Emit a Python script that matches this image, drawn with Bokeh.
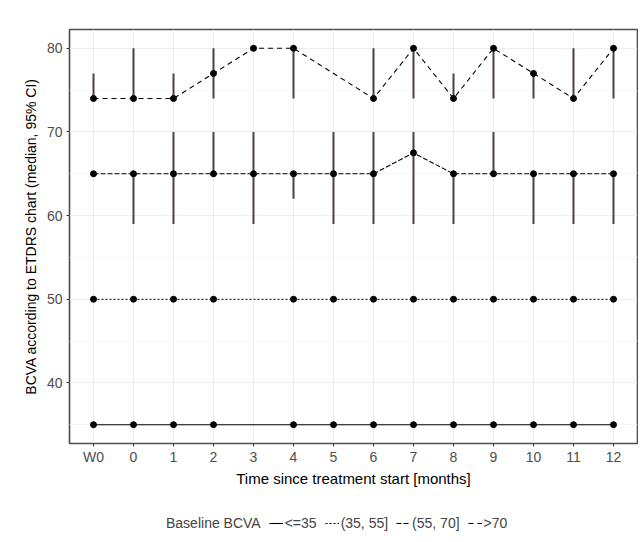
from bokeh.plotting import figure
from bokeh.layouts import column
from bokeh.models import ColumnDataSource, Range1d, FixedTicker, Legend, LegendItem
from bokeh.embed import file_html
from bokeh.resources import INLINE

months = ["W0", "0", "1", "2", "3", "4", "5", "6", "7", "8", "9", "10", "11", "12"]
groups = ["<=35", "(35, 55]", "(55, 70]", ">70"]
legend_title = "Baseline BCVA"

med_le35 = [35, 35, 35, 35, None, 35, 35, 35, 35, 35, 35, 35, 35, 35]
lo_le35 = med_le35
hi_le35 = med_le35

med_35_55 = [50, 50, 50, 50, None, 50, 50, 50, 50, 50, 50, 50, 50, 50]
lo_35_55 = med_35_55
hi_35_55 = med_35_55

med_55_70 = [65, 65, 65, 65, 65, 65, 65, 65, 67.5, 65, 65, 65, 65, 65]
lo_55_70 = [65, 59, 59, 65, 59, 62, 59, 59, 59, 59, 65, 59, 59, 59]
hi_55_70 = [65, 65, 70, 70, 70, 65, 70, 70, 70, 65, 70, 65, 65, 65]

med_gt70 = [74, 74, 74, 77, 80, 80, None, 74, 80, 74, 80, 77, 74, 80]
lo_gt70 = [74, 74, 74, 74, 80, 74, None, 74, 74, 74, 74, 74, 74, 74]
hi_gt70 = [77, 80, 77, 80, 80, 80, None, 80, 80, 77, 80, 77, 80, 80]

y_ticks = [40, 50, 60, 70, 80]
y_minor = [35, 45, 55, 65, 75]

series = [
    (groups[0], med_le35, lo_le35, hi_le35, "solid"),
    (groups[1], med_35_55, lo_35_55, hi_35_55, "2 2"),
    (groups[2], med_55_70, lo_55_70, hi_55_70, "5 2"),
    (groups[3], med_gt70, lo_gt70, hi_gt70, "5 4"),
]

FONT = "Liberation Sans"

p = figure(frame_width=568, frame_height=414, output_backend="svg", toolbar_location=None,
           x_range=Range1d(-0.6, len(months) - 0.4), y_range=Range1d(32.75, 82.25),
           min_border_left=69, min_border_top=29, min_border_bottom=50, min_border_right=1)
p.background_fill_color = "white"
p.border_fill_color = "white"
p.outline_line_color = "#4d4d4d"
p.outline_line_width = 1.6

# grids
p.xgrid.grid_line_color = "#ededed"
p.ygrid.grid_line_color = "#ededed"
p.ygrid.minor_grid_line_color = "#f6f6f6"

p.xaxis.ticker = FixedTicker(ticks=list(range(len(months))))
p.xaxis.major_label_overrides = {i: m for i, m in enumerate(months)}
p.yaxis.ticker = FixedTicker(ticks=y_ticks, minor_ticks=y_minor)

for ax in (p.xaxis[0], p.yaxis[0]):
    ax.axis_line_color = None
    ax.major_tick_line_color = "#333333"
    ax.major_tick_in = 0
    ax.major_tick_out = 3
    ax.minor_tick_line_color = None
    ax.major_label_text_font = FONT
    ax.major_label_text_font_size = "14px"
    ax.major_label_text_color = "#4d4d4d"
    ax.axis_label_text_font = FONT
    ax.axis_label_text_font_style = "normal"
    ax.axis_label_text_color = "black"

p.xaxis.axis_label = "Time since treatment start [months]"
p.xaxis.axis_label_text_font_size = "15px"
p.xaxis.major_label_standoff = 2
p.xaxis.axis_label_standoff = 2
p.yaxis.axis_label = "BCVA according to ETDRS chart (median, 95% CI)"
p.yaxis.axis_label_text_font_size = "14px"
p.yaxis.major_label_standoff = 3
p.yaxis.axis_label_standoff = 5

# legend strip below the chart (its frame is aligned with the chart frame)
lg = figure(width=638, height=49, output_backend="svg", toolbar_location=None,
            x_axis_type=None, y_axis_type=None, x_range=Range1d(0, 1), y_range=Range1d(0, 1),
            min_border_left=0, min_border_right=0, min_border_top=0, min_border_bottom=0)
lg.outline_line_color = None
lg.xgrid.visible = False
lg.ygrid.visible = False
lg.background_fill_color = "white"
lg.border_fill_color = "white"

# key renderers sit outside the strip's visible range; only their legend glyphs show
off_x = [5, 6]
off_y = [5, 5]
title_r = lg.line(x=off_x, y=off_y, line_alpha=0)
items = [LegendItem(label=legend_title, renderers=[title_r])]

for name, med, lo, hi, dash in series:
    xs = [i for i, v in enumerate(med) if v is not None]
    src = ColumnDataSource(dict(x=xs, y=[med[i] for i in xs]))
    eb_idx = [i for i in xs if lo[i] != hi[i]]
    if eb_idx:
        esrc = ColumnDataSource(dict(x=eb_idx, lo=[lo[i] for i in eb_idx], hi=[hi[i] for i in eb_idx]))
        p.segment(x0="x", y0="lo", x1="x", y1="hi", source=esrc, line_color="#4a4343", line_width=2)
    p.line(x="x", y="y", source=src, line_color="black", line_width=1.1, line_dash=dash)
    p.scatter(x="x", y="y", source=src, size=6, fill_color="black", line_color="black")
    key = lg.line(x=off_x, y=off_y, line_color="black", line_width=1.1, line_dash=dash)
    items.append(LegendItem(label=name, renderers=[key]))

legend = Legend(items=items, orientation="horizontal", location=(81, 11))
legend.border_line_color = None
legend.background_fill_alpha = 0
legend.label_text_font = FONT
legend.label_text_font_size = "14px"
legend.glyph_width = 14
legend.glyph_height = 12
legend.label_standoff = 2
legend.spacing = 8
legend.padding = 0
legend.margin = 0
lg.add_layout(legend, "center")

layout = column(p, lg, spacing=0)
open("out.html", "w").write(file_html(layout, INLINE))
